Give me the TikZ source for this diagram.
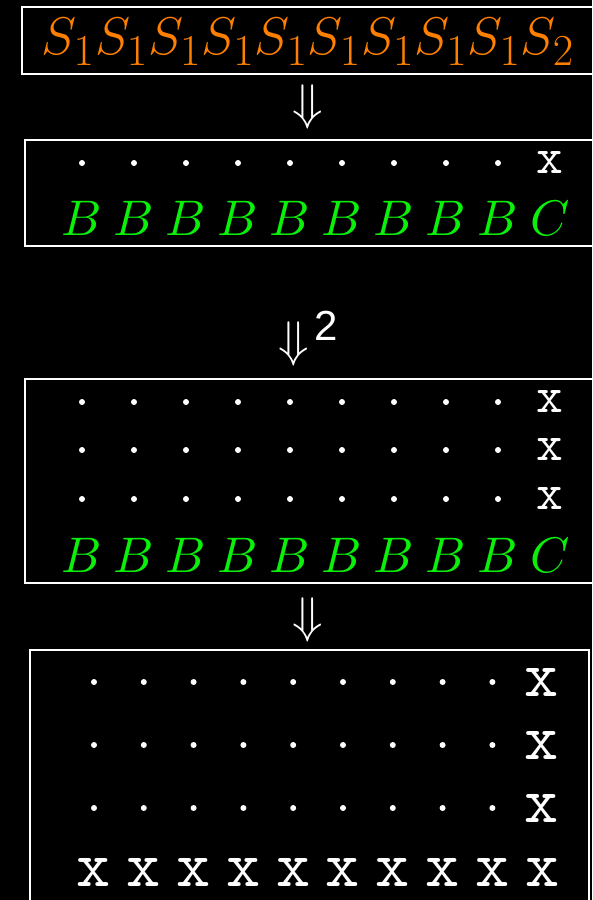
\documentclass[tikz,border=0pt]{standalone}
\usepackage{fontspec}
\newfontfamily\twofont{Liberation Sans}
\definecolor{orng}{RGB}{255,128,0}
\definecolor{grn}{RGB}{10,240,10}
\begin{document}
\begin{tikzpicture}[x=1pt,y=-1pt,
  frame/.style={draw=white,line width=1.3pt},
  txt/.style={inner sep=0pt,outer sep=0pt},
  dotm/.style={circle,fill=white,inner sep=0pt,minimum size=6pt},
  xm/.style={txt,text=white,scale=5.1,font=\ttfamily},
  bigx/.style={txt,text=white,scale=6.5,font=\ttfamily},
  bm/.style={txt,text=grn,scale=5},
  arr/.style={txt,text=white,scale=5}]
\fill[black] (0,0) rectangle (592,900);
\useasboundingbox (0,0) rectangle (592,900);
% box 1
\draw[frame] (22,7) rectangle (610,74);
\node[txt,text=orng,scale=2.13,font=\Huge] (top) at (308,42) {$S_1S_1S_1S_1S_1S_1S_1S_1S_1S_2$};
\node[arr] (a1) at (308,107) {$\Downarrow$};
% box 2
\draw[frame] (25,140) rectangle (610,246);
\foreach \i in {0,...,8} {
  \node[dotm] (d2-\i) at (82+52*\i,163) {};
  \node[bm] (b2-\i) at (82+52*\i,218) {$B$};
}
\node[xm] (x2) at (550,163) {x};
\node[bm] (c2) at (550,218) {$C$};
% arrow 2
\node[arr] (a2) at (294,344) {$\Downarrow$};
\node[txt,text=white,scale=4.2,font=\twofont] (sq) at (326,326) {2};
% box 3
\draw[frame] (25,379) rectangle (610,583);
\foreach \r/\y in {1/402,2/450,3/499} {
  \foreach \i in {0,...,8} {
    \node[dotm] (d3-\r-\i) at (82+52*\i,\y) {};
  }
  \node[xm] (x3-\r) at (550,\y) {x};
}
\foreach \i in {0,...,8} {
  \node[bm] (b3-\i) at (82+52*\i,555) {$B$};
}
\node[bm] (c3) at (550,555) {$C$};
\node[arr] (a3) at (308,620) {$\Downarrow$};
% box 4
\draw[frame] (30,650) rectangle (589,920);
\foreach \r/\y in {1/682,2/745,3/808} {
  \foreach \i in {0,...,8} {
    \node[dotm] (d4-\r-\i) at (94+49.8*\i,\y) {};
  }
  \node[bigx] (x4-\r) at (542,\y) {x};
}
\foreach \i in {0,...,9} {
  \node[bigx] (x4-4-\i) at (94+49.8*\i,872) {x};
}
\end{tikzpicture}
\end{document}
